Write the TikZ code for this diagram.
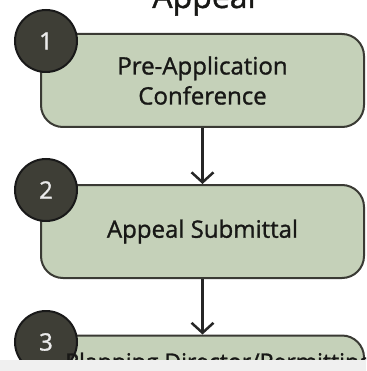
\documentclass[tikz,border=0pt]{standalone}
\usepackage{fontspec}
\setmainfont{Open Sans}
\newfontfamily\stepfont{Open Sans}[FakeBold=1.2]
\usetikzlibrary{arrows.meta,positioning}
\definecolor{sage}{RGB}{197,209,185}
\definecolor{darkolive}{RGB}{62,62,54}
\definecolor{edgegray}{RGB}{58,58,52}
\definecolor{inkgray}{RGB}{24,24,22}
\definecolor{stripgray}{RGB}{240,240,240}

\begin{document}
\begin{tikzpicture}[x=1pt,y=-1pt,
  stepbox/.style={draw=edgegray, line width=2pt, fill=sage, rounded corners=22pt,
    minimum width=323pt, minimum height=93pt, inner sep=0pt, align=center,
    text=inkgray, font=\stepfont\fontsize{24}{30}\selectfont},
  numdot/.style={circle, draw=black!90, line width=2pt, fill=darkolive,
    minimum size=62pt, inner sep=0pt, text=white!92!black,
    font=\stepfont\fontsize{24}{24}\selectfont},
  flow/.style={line width=2.5pt, draw=black!85, -{Straight Barb[length=10pt,width=22pt]}}]
\useasboundingbox (0,0) rectangle (366,371);

\begin{scope}
\clip (0,0) rectangle (366,360);
% title, cut off at the top
\node[anchor=base, text=inkgray, font=\stepfont\fontsize{32}{32}\selectfont] (title) at (204,8) {Appeal};

% steps
\node[stepbox] (box1) at (202.5,80.5) {Pre-Application\\Conference};
\node[stepbox] (box2) at (202.5,231.5) {Appeal Submittal};
\node[stepbox] (box3) at (202.5,382) {};

% numbers
\node[numdot] (n1) at (46,41) {1};
\node[numdot] (n2) at (46,190) {2};
\node[numdot] (n3) at (46,342) {3};

% third label, only its top shows
\node[anchor=base west, inner sep=0pt, text=inkgray, font=\stepfont\fontsize{23}{28}\selectfont] (lbl3) at (65,370) {Planning Director/Permitting};

% arrows
\draw[flow] (box1.south) -- (box2.north);
\draw[flow] (box2.south) -- (box3.north);
\end{scope}

% grey strip at the bottom
\fill[stripgray] (0,360) rectangle (366,371);
\end{tikzpicture}
\end{document}
